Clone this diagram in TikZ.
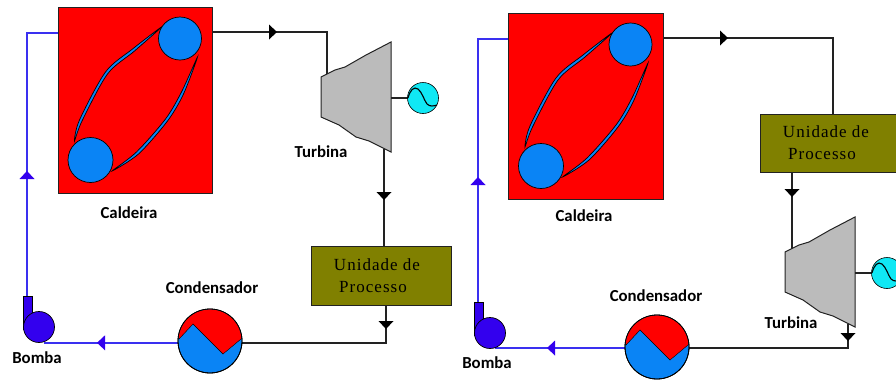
\documentclass[tikz,border=0pt]{standalone}
\usepackage{fontspec}
\setmainfont{Liberation Serif}
\newfontfamily\labelfont{Carlito}
\newfontfamily\boxfont[LetterSpace=6]{Liberation Serif}
\definecolor{water}{HTML}{0A84F5}
\definecolor{pipeblue}{HTML}{3A30F0}
\definecolor{pumpblue}{HTML}{3300EE}
\definecolor{olivebox}{HTML}{808000}
\definecolor{turbgray}{HTML}{BBBBBB}
\definecolor{gencyan}{HTML}{10E8F4}
\definecolor{linedark}{HTML}{222222}
\tikzset{
  steamline/.style={draw=linedark,line width=1.3pt},
  waterline/.style={draw=pipeblue,line width=1.6pt},
  boilerbox/.style={draw=linedark,fill=red,line width=1pt,minimum width=154.5pt,minimum height=186pt,inner sep=0pt,rectangle},
  procbox/.style={draw=linedark,fill=olivebox,line width=1pt,inner sep=0pt,rectangle},
  ballfill/.style={draw=black,fill=water,line width=.7pt,circle,inner sep=0pt},
  tubefill/.style={draw=black,fill=water,line width=.7pt},
  pumpball/.style={draw=black,fill=pumpblue,line width=.7pt,circle,inner sep=0pt,minimum size=31pt},
  condball/.style={draw=black,fill=water,line width=.8pt,circle,inner sep=0pt,minimum size=64pt},
  genball/.style={draw=black,fill=gencyan,line width=.6pt,circle,inner sep=0pt,minimum size=31pt},
  lab/.style={font=\labelfont\bfseries\fontsize{16.8}{18}\selectfont,text=black,inner sep=0pt},
  boxtext/.style={font=\boxfont\fontsize{17}{19}\selectfont,text=black,inner sep=0pt},
}
% tip at #2, rotate #3 (0 right, 90 up, 180 left, 270 down)
\newcommand{\FlowTip}[3]{\fill[#1,shift={(#2)},rotate=#3] (0,0) -- (-8,7.5) -- (-8,-7.5) -- cycle;}
\newcommand{\DrawBoiler}[3]{% name, x, y of top-left
  \begin{scope}[shift={(#2,#3)}]
    \node[boilerbox,anchor=north west] (#1) at (0,0) {};
    \path[tubefill] plot[smooth cycle,tension=.5] coordinates {(17,134) (22,113) (48,65) (75,42) (104,20) (77,44) (50,67) (24.5,114)};
    \path[tubefill] plot[smooth cycle,tension=.5] coordinates {(54.5,164) (79,145) (108,112) (124,85) (140,50) (126,87) (110,114) (81,147)};
    \node[ballfill,minimum size=43pt] (#1top) at (122.5,31.5) {};
    \node[ballfill,minimum size=45pt] (#1bot) at (33,153) {};
  \end{scope}}
\newcommand{\DrawCondenser}[3]{%
  \node[condball] (#1) at (#2,#3) {};
  \begin{scope}[shift={(#2,#3)}]
    \clip (0,0) circle (31.6);
    \fill[red] (-31,-2) -- (-17,-17) -- (13,13) -- (31,-2) -- (31,-40) -- (-31,-40) -- cycle;
    \draw[black,line width=.4pt] (-31,-2) -- (-17,-17) -- (13,13) -- (31,-2);
  \end{scope}
  \draw[black,line width=.8pt] (#1) circle (32);}
\newcommand{\DrawPump}[3]{% name, circle centre
  \begin{scope}[shift={(#2,#3)}]
    \draw[black,fill=pumpblue,line width=.8pt] (-16,-31) rectangle (-7,2);
  \end{scope}
  \node[pumpball] (#1) at (#2,#3) {};}
\newcommand{\DrawTurbine}[3]{% name, x, y of upper left corner
  \begin{scope}[shift={(#2,#3)}]
    \draw[linedark,fill=turbgray,line width=1pt] (0,0) -- (14,-7) -- (24,-10) -- (45,-22) -- (70,-35) -- (70,75) -- (48,64) -- (35,60) -- (18,48) -- (0,40) -- cycle;
    \coordinate (#1shaft) at (70,21);
  \end{scope}}
\newcommand{\DrawGenerator}[3]{%
  \node[genball] (#1) at (#2,#3) {};
  \begin{scope}[shift={(#2,#3)}]
    \draw[black,line width=1.1pt] (-15,0) .. controls (-13,-8) and (-9,-12) .. (-5,-9) .. controls (-1,-6) and (1,2) .. (4,6) .. controls (7,9) and (11,8) .. (14,7);
  \end{scope}}
\begin{document}
\begin{tikzpicture}[x=1pt,y=-1pt]
\useasboundingbox (0,0) rectangle (896,381);
\fill[white] (0,0) rectangle (896,381);

% ---------- left plant ----------
\coordinate (La) at (27,33);
\coordinate (Lb) at (327,32);
\coordinate (Lc) at (384,246);
\coordinate (Ld) at (386,343);
\coordinate (Le) at (44,342.8);
\coordinate (Lt1) at (277,32);
\coordinate (Lt2) at (384,200);
\coordinate (Lt3) at (386,329);
\coordinate (Lt4) at (97,342.8);
\coordinate (Lt5) at (27,171);
\coordinate (Lturbin) at (327,75);
\coordinate (Lturbout) at (384,149);
\coordinate (Lpumpout) at (27,300);

\draw[waterline] (Lpumpout) -- (La) -- (La -| 58,0);
\draw[steamline] (212,32) -- (Lb) -- (Lturbin);
\draw[steamline] (Lturbout) -- (Lc);
\draw[steamline] (Ld |- 0,305) -- (Ld) -- (242,343);
\draw[waterline] (178,342.8) -- (Le);

\DrawBoiler{Lboil}{57.5}{7}
\DrawTurbine{Lturb}{321}{77}
\draw[linedark,line width=2.5pt] (Lturbshaft) -- (408,98);
\DrawGenerator{Lgen}{423}{98}
\node[procbox,minimum width=140pt,minimum height=59pt] (Lbox) at (381,275.5) {};
\node[boxtext] (Ltx1) at (377,265) {Unidade de};
\node[boxtext] (Ltx2) at (373,287) {Processo};
\DrawCondenser{Lcond}{210}{341}
\DrawPump{Lpump}{39}{327}

\FlowTip{black}{Lt1}{0}
\FlowTip{black}{Lt2}{270}
\FlowTip{black}{Lt3}{270}
\FlowTip{pumpblue}{Lt4}{180}
\FlowTip{pumpblue}{Lt5}{90}

\node[lab] (Lcald) at (129,213) {Caldeira};
\node[lab] (Lturbl) at (321,152) {Turbina};
\node[lab] (Lcondl) at (212,288) {Condensador};
\node[lab] (Lboml) at (37,358) {Bomba};

% ---------- right plant ----------
\coordinate (Ra) at (478,39);
\coordinate (Rb) at (833,38);
\coordinate (Rc) at (792,250);
\coordinate (Rd) at (848,348);
\coordinate (Re) at (495,348);
\coordinate (Rt1) at (728,38);
\coordinate (Rt2) at (792,197);
\coordinate (Rt3) at (848,341);
\coordinate (Rt4) at (547,348);
\coordinate (Rt5) at (478,177);
\coordinate (Rpumpout) at (478,306);

\draw[waterline] (Rpumpout) -- (Ra) -- (Ra -| 508,0);
\draw[steamline] (663,38) -- (Rb) -- (Rb |- 0,114);
\draw[steamline] (Rc |- 0,172) -- (Rc);
\draw[steamline] (Rd |- 0,324) -- (Rd) -- (689,348);
\draw[waterline] (625,348) -- (Re);

\DrawBoiler{Rboil}{508}{13}
\DrawTurbine{Rturb}{785}{252}
\draw[linedark,line width=2.5pt] (Rturbshaft) -- (872,273);
\DrawGenerator{Rgen}{887}{273}
\node[procbox,minimum width=145pt,minimum height=58pt,anchor=west] (Rbox) at (760,143) {};
\node[boxtext] (Rtx1) at (826,132) {Unidade de};
\node[boxtext] (Rtx2) at (822,154) {Processo};
\DrawCondenser{Rcond}{657}{347}
\DrawPump{Rpump}{490}{333}

\FlowTip{black}{Rt1}{0}
\FlowTip{black}{Rt2}{270}
\FlowTip{black}{Rt3}{270}
\FlowTip{pumpblue}{Rt4}{180}
\FlowTip{pumpblue}{Rt5}{90}

\node[lab] (Rcald) at (584,216) {Caldeira};
\node[lab] (Rturbl) at (791,323) {Turbina};
\node[lab] (Rcondl) at (656,296) {Condensador};
\node[lab] (Rboml) at (487,363) {Bomba};
\end{tikzpicture}
\end{document}
